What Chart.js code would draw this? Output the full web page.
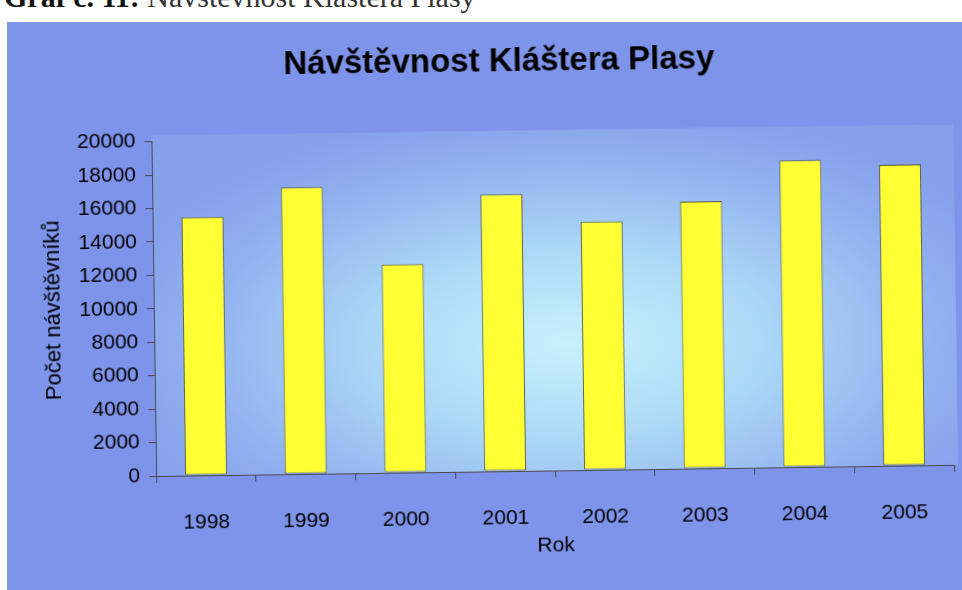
<!DOCTYPE html>
<html>
<head>
<meta charset="utf-8">
<script src="https://cdn.jsdelivr.net/npm/chart.js@4/dist/chart.umd.min.js"></script>
<style>
    html, body { margin: 0; padding: 0; background: #ffffff; overflow: hidden; }
    body { width: 962px; height: 590px; position: relative; }
    .caption {
        position: absolute; left: 4px; top: -18px;
        font-family: "Liberation Serif", serif; font-size: 30px; line-height: 30px;
        color: #333; white-space: nowrap;
    }
    .caption b { font-weight: bold; color: #111; }
    .panel {
        position: absolute; left: 7px; top: 22px; width: 960px; height: 575px;
        background: #7e93ea;
    }
    .wrap {
        position: absolute; left: 0; top: 0; width: 955px; height: 568px;
        transform: rotate(-0.8deg); transform-origin: 150px 300px;
    }
</style>
</head>
<body>
<div class="caption"><b>Graf č. 11:</b> Návštěvnost Kláštera Plasy</div>
<div class="panel">
    <div class="wrap"><canvas id="visitChart" width="955" height="568"></canvas></div>
</div>
<script>
// data
const years = ['1998', '1999', '2000', '2001', '2002', '2003', '2004', '2005'];
const visitors = [15450, 17150, 12450, 16550, 14850, 15970, 18340, 18000];
const yTicks = [0, 2000, 4000, 6000, 8000, 10000, 12000, 14000, 16000, 18000, 20000];

// light glow in the plot area, like the old Excel fill
const plotFill = {
    id: 'plotFill',
    beforeDraw(chart) {
        const { ctx, chartArea: a } = chart;
        const cx = a.left + a.width * 0.52;
        const cy = a.top + a.height * 0.62;
        ctx.save();
        ctx.beginPath();
        ctx.rect(a.left, a.top - 6, a.width + 4, a.height + 6);
        ctx.clip();
        ctx.translate(cx, cy);
        ctx.scale(1, 0.5);
        const g = ctx.createRadialGradient(0, 0, 0, 0, 0, 480);
        g.addColorStop(0, '#c6f2fd');
        g.addColorStop(0.4, '#acd8f6');
        g.addColorStop(0.78, '#90b0ef');
        g.addColorStop(1, '#86a0ec');
        ctx.fillStyle = g;
        ctx.fillRect(-cx, -cy / 0.5, 2000, 2000);
        ctx.restore();
    }
};

const axisColor = '#4a4a55';
const fontFamily = 'Arial, "Liberation Sans", sans-serif';

new Chart(document.getElementById('visitChart'), {
    type: 'bar',
    data: {
        labels: years,
        datasets: [{
            label: 'Počet návštěvníků',
            data: visitors,
            backgroundColor: '#ffff33',
            borderColor: '#555540',
            borderWidth: 1,
            borderSkipped: false,
            barPercentage: 0.42,
            categoryPercentage: 1
        }]
    },
    options: {
        responsive: false,
        animation: false,
        // left padding pushes the centred title right; y axis width makes up the rest
        layout: { padding: { left: 46, right: 10, top: 0, bottom: 0 } },
        plugins: {
            legend: { display: false },
            tooltip: { enabled: false },
            title: {
                display: true,
                text: 'Návštěvnost Kláštera Plasy',
                color: '#000',
                font: { family: fontFamily, size: 33, weight: 'bold' },
                padding: { top: 25, bottom: 55 }
            }
        },
        scales: {
            x: {
                grid: { display: true, drawOnChartArea: false, offset: true, tickLength: 7, color: axisColor },
                border: { color: axisColor, width: 1 },
                ticks: {
                    color: '#000', padding: 28, maxRotation: 0,
                    font: { family: fontFamily, size: 21 }
                },
                title: {
                    display: true, text: 'Rok', color: '#000', padding: { top: 4, bottom: 26 },
                    font: { family: fontFamily, size: 21 }
                },
                afterFit(scale) { scale.height = 114; }
            },
            y: {
                min: 0,
                max: 20000,
                afterBuildTicks(scale) { scale.ticks = yTicks.map(v => ({ value: v })); },
                grid: { display: true, drawOnChartArea: false, tickLength: 7, color: axisColor },
                border: { color: axisColor, width: 1 },
                ticks: {
                    color: '#000', padding: 9,
                    font: { family: fontFamily, size: 21 },
                    callback: v => String(v)
                },
                title: {
                    display: true, text: 'Počet návštěvníků', color: '#000',
                    padding: { top: -12, bottom: 0 },
                    font: { family: fontFamily, size: 22 }
                },
                afterFit(scale) { scale.width = 101; }
            }
        }
    },
    plugins: [plotFill]
});
</script>
</body>
</html>
